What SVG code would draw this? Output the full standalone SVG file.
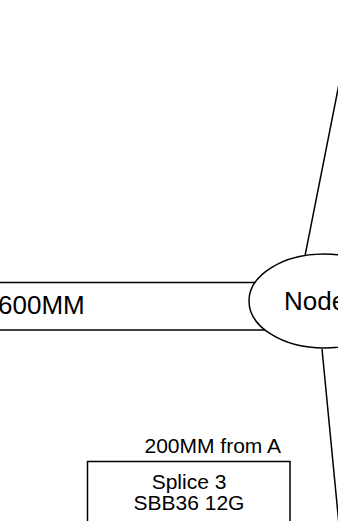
<svg xmlns="http://www.w3.org/2000/svg" width="338" height="521" viewBox="0 0 338 521">
<style>
.shape{fill:#fff;stroke:#000;stroke-width:1.5}
.conn{stroke:#000;stroke-width:1.5;fill:none}
.big{font-family:"Liberation Sans",Arial,sans-serif;font-size:26px;fill:#000}
.small{font-family:"Liberation Sans",Arial,sans-serif;font-size:21px;fill:#000}
</style>
<rect width="338" height="521" fill="#fff"/>
<g id="connectors">
<line class="conn" x1="305" y1="256" x2="340" y2="79"/>
<line class="conn" x1="322" y1="349" x2="339.5" y2="530"/>
</g>
<g id="cable-600">
<rect class="shape" x="-10" y="282.5" width="280" height="47.5"/>
<text class="big" x="-2" y="313.5">600MM</text>
</g>
<g id="node">
<ellipse class="shape" cx="324" cy="301" rx="75" ry="47"/>
<text class="big" x="284" y="310">Node</text>
</g>
<g id="label-200">
<text class="small" x="144.5" y="453">200MM from A</text>
</g>
<g id="splice3">
<rect class="shape" x="87.5" y="461.5" width="202.5" height="80"/>
<text class="small" x="189" y="489" text-anchor="middle">Splice 3</text>
<text class="small" x="189" y="510" text-anchor="middle">SBB36 12G</text>
</g>
</svg>
